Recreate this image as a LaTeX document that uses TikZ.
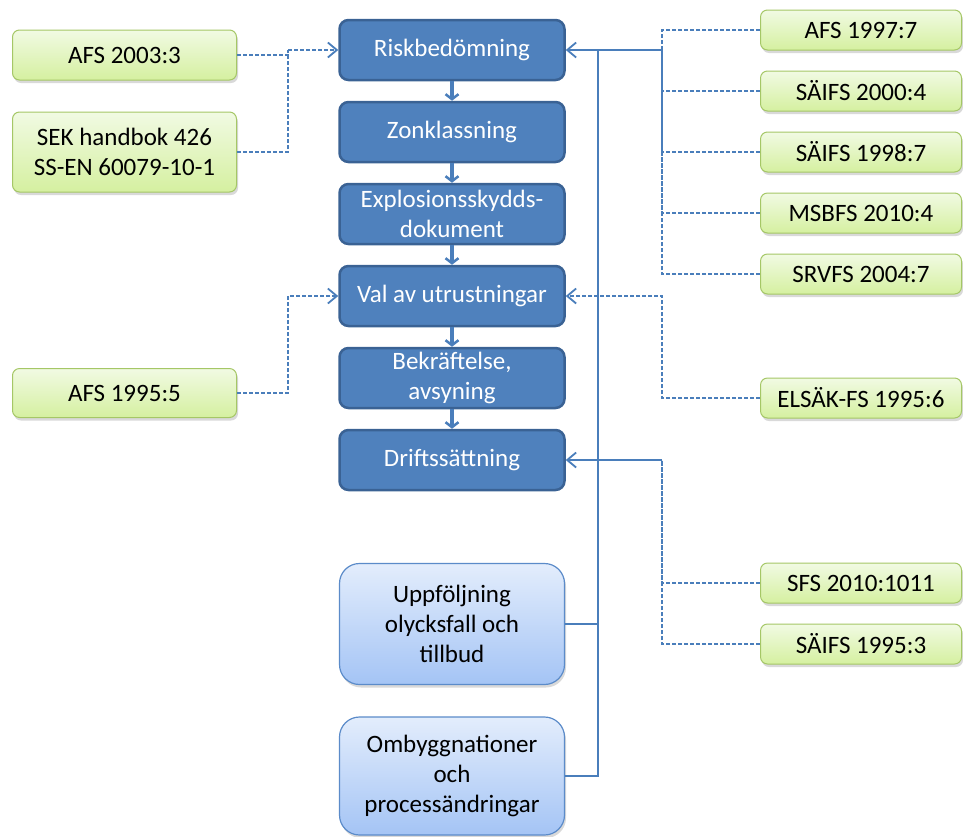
\documentclass[tikz,border=0pt]{standalone}
\usepackage{fontspec}
\setmainfont{Carlito}
\usetikzlibrary{positioning,arrows.meta,shadows}

\definecolor{procblue}{HTML}{4F81BD}
\definecolor{procedge}{HTML}{3A6294}
\definecolor{linkblue}{HTML}{4A7EBB}
\definecolor{lawtop}{HTML}{F1FAE3}
\definecolor{lawbot}{HTML}{D5F0A0}
\definecolor{lawedge}{HTML}{A5C766}
\definecolor{fbtop}{HTML}{E3EDFC}
\definecolor{fbbot}{HTML}{A4C4F5}
\definecolor{fbedge}{HTML}{5B8BC9}

\tikzset{
  proc/.style={draw=procedge, line width=2.5pt, fill=procblue, rounded corners=9pt,
    minimum width=225pt, minimum height=60pt, text=white, align=center, inner sep=2pt},
  law/.style={draw=lawedge, line width=1pt, top color=lawtop, bottom color=lawbot,
    rounded corners=7pt, minimum width=201pt, minimum height=40pt, align=center, inner sep=2pt,
    drop shadow={shadow xshift=1.5pt, shadow yshift=-3pt, opacity=.3}},
  followup/.style={draw=fbedge, line width=1.2pt, top color=fbtop, bottom color=fbbot,
    rounded corners=20pt, minimum width=225pt, align=center, inner sep=2pt,
    drop shadow={shadow xshift=1.5pt, shadow yshift=-3pt, opacity=.3}},
  chain/.style={draw=linkblue, line width=3.5pt, -{Straight Barb[length=5pt,width=13pt,line width=2.5pt]}},
  lawlink/.style={draw=linkblue, line width=1.6pt, dash pattern=on 4pt off 2pt},
  lawtip/.style={-{Straight Barb[length=9pt,width=15pt,line width=1.8pt]}},
  feed/.style={draw=linkblue, line width=2pt}
}

\begin{document}
\begin{tikzpicture}[x=1pt,y=1pt,node distance=82pt,on grid,font=\fontsize{25}{30}\selectfont]
\useasboundingbox (0,0) rectangle (963,-836);

% process steps
\node[proc] (risk) at (452,-50) {Riskbedömning};
\node[proc] (zon) [below=of risk] {Zonklassning};
\node[proc] (expl) [below=of zon] {Explosionsskydds-\\dokument};
\node[proc] (val) [below=of expl] {Val av utrustningar};
\node[proc] (bekr) [below=of val] {Bekräftelse,\\avsyning};
\node[proc] (drift) [below=of bekr] {Driftssättning};

% follow-up boxes
\node[followup, minimum height=121pt] (uppf) at (452,-624) {Uppföljning\\olycksfall och\\tillbud};
\node[followup, minimum height=118pt] (omb) at (452,-776) {Ombyggnationer\\och\\processändringar};

% regulations, left
\node[law, minimum width=224pt, minimum height=50pt] (afs03) at (124.5,-55) {AFS 2003:3};
\node[law, minimum width=224pt, minimum height=80pt] (sek) at (124.5,-152) {SEK handbok 426\\SS-EN 60079-10-1};
\node[law, minimum width=224pt, minimum height=49pt] (afs95) at (124.5,-393) {AFS 1995:5};

% regulations, right
\node[law] (afs97) at (861,-30) {AFS 1997:7};
\node[law] (saifs00) [below=61pt of afs97] {SÄIFS 2000:4};
\node[law] (saifs98) [below=61pt of saifs00] {SÄIFS 1998:7};
\node[law] (msbfs) [below=61pt of saifs98] {MSBFS 2010:4};
\node[law] (srvfs) [below=61pt of msbfs] {SRVFS 2004:7};
\node[law] (elsak) at (861,-398) {ELSÄK-FS 1995:6};
\node[law] (sfs) at (861,-583) {SFS 2010:1011};
\node[law] (saifs95) [below=61pt of sfs] {SÄIFS 1995:3};

% junctions
\coordinate (lj) at (288,-50);
\coordinate (rj) at (662,-50);
\coordinate (vl) at (288,-296);
\coordinate (vr) at (662,-296);
\coordinate (dj) at (662,-460);
\coordinate (fb) at (598,-50);

% flow
\foreach \a/\b in {risk/zon,zon/expl,expl/val,val/bekr,bekr/drift}
  \draw[chain] (\a) -- (\b);

% links
\foreach \n in {afs97,saifs00,saifs98,msbfs,srvfs}
  \draw[lawlink] (\n.west) -| (rj);
\draw[feed,lawtip] (rj) -- (risk.east);
\draw[lawlink] (afs03.east) -| (lj);
\draw[lawlink] (sek.east) -| (lj);
\draw[lawlink,lawtip] (lj) -- (risk.west);
\draw[lawlink,lawtip] (afs95.east) -| (vl) -- (val.west);
\draw[lawlink,lawtip] (elsak.west) -| (vr) -- (val.east);
\draw[lawlink] (sfs.west) -| (dj);
\draw[lawlink] (saifs95.west) -| (dj);
\draw[feed,lawtip] (dj) -- (drift.east);
\draw[feed] (uppf.east) -| (fb);
\draw[feed] (omb.east) -| (fb);
\end{tikzpicture}
\end{document}
